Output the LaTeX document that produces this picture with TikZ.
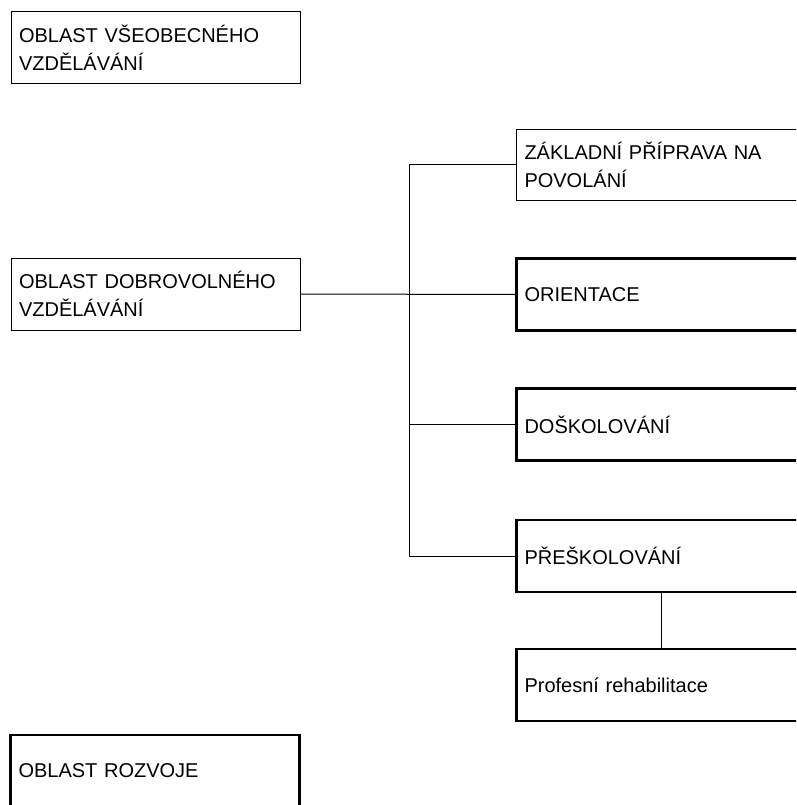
\documentclass[tikz,border=0pt]{standalone}
\usepackage{fontspec}
\setmainfont{Liberation Sans}
\usetikzlibrary{positioning}

\tikzset{
  areabox/.style={draw,rectangle,line width=1pt,minimum height=72pt,
    text width=273pt,inner xsep=8pt,align=left,font=\fontsize{20}{28}\selectfont},
  thinbox/.style={areabox},
  thickbox/.style={areabox,line width=2.6pt},
  link/.style={line width=1pt}
}

\begin{document}
\begin{tikzpicture}[x=1pt,y=-1pt]
\useasboundingbox (0,0) rectangle (796,805);
\clip (0,0) rectangle (796,805);

% left column
\node [thinbox] (vseob) at (155.5,48) {OBLAST VŠEOBECNÉHO\\VZDĚLÁVÁNÍ};
\node [thinbox] (dobrov) at (155.5,294) {OBLAST DOBROVOLNÉHO\\VZDĚLÁVÁNÍ};
\node [thickbox] (rozvoj) at (155,771) {OBLAST ROZVOJE};

% right column
\node [thinbox,minimum height=70pt] (zaklad) at (661,165) {ZÁKLADNÍ PŘÍPRAVA NA\\POVOLÁNÍ};
\node [thickbox] (orient) at (661,294.5) {ORIENTACE};
\node [thickbox] (doskol) at (661,424.5) {DOŠKOLOVÁNÍ};
\node [thickbox] (preskol) at (661,556) {PŘEŠKOLOVÁNÍ};
\node [thickbox] (rehab) at (661,685) {Profesní rehabilitace};

% connectors
\coordinate (bustop) at (409,165);
\coordinate (busbot) at (409,556);
\draw [link] (dobrov.east) -- (orient.west);
\draw [link] (zaklad.west) -- (bustop) -- (busbot) -- (preskol.west);
\draw [link] (doskol.west) -- (doskol.west -| bustop);
\draw [link] (preskol.south) -- (rehab.north);

\end{tikzpicture}
\end{document}
